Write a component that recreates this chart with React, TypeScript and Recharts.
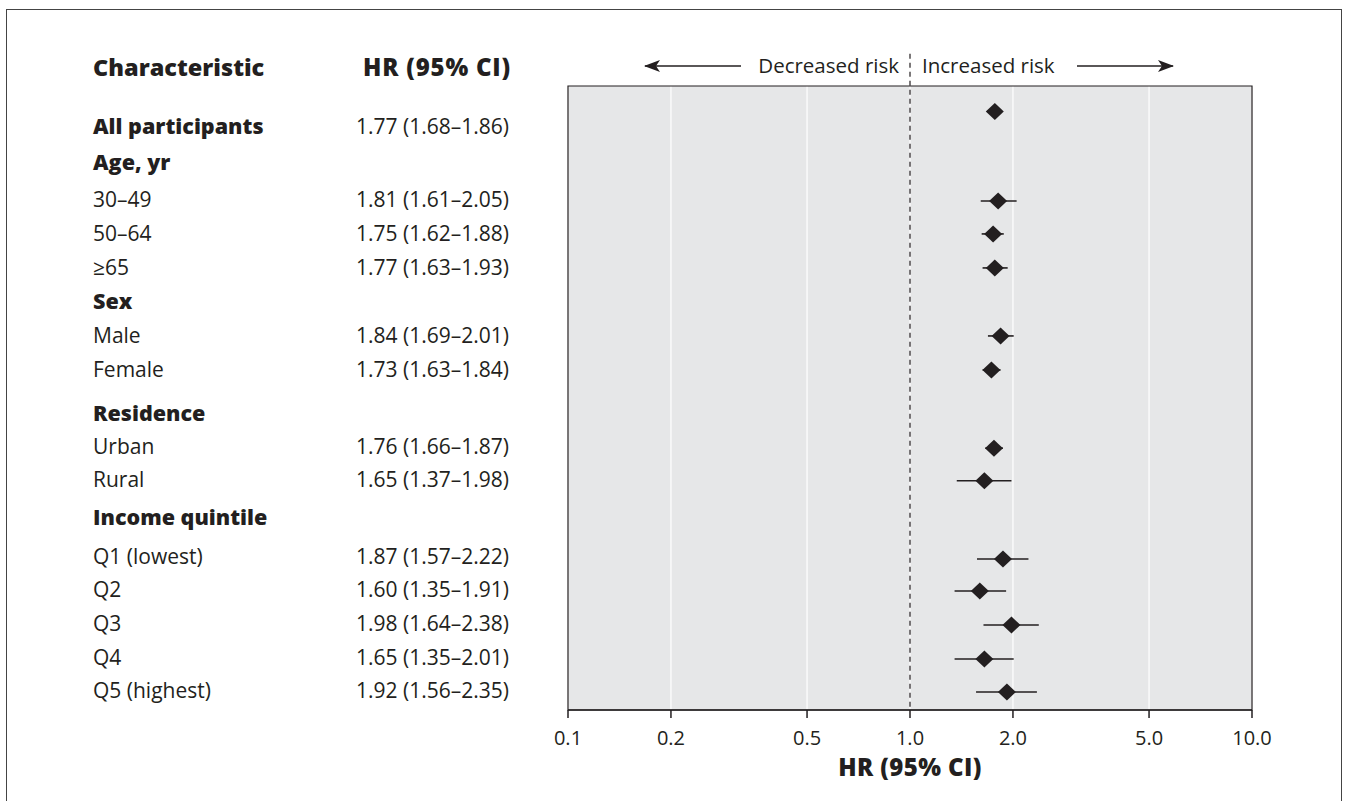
import React from 'react';
import {
  ScatterChart,
  Scatter,
  XAxis,
  YAxis,
  CartesianGrid,
  ErrorBar,
  ReferenceLine,
  ReferenceArea,
} from 'recharts';

// ---- Column headers ----
const columnHeaders = ['Characteristic', 'HR (95% CI)'];
const riskLabels = ['Decreased risk', 'Increased risk'];
const xAxisTitle = 'HR (95% CI)';

// ---- Left-hand table (row labels and HR text) ----
const labels = [
  'All participants', 'Age, yr', '30–49', '50–64', '≥65', 'Sex', 'Male', 'Female',
  'Residence', 'Urban', 'Rural', 'Income quintile', 'Q1 (lowest)', 'Q2', 'Q3', 'Q4', 'Q5 (highest)',
];
const hrText = [
  '1.77 (1.68–1.86)', '', '1.81 (1.61–2.05)', '1.75 (1.62–1.88)', '1.77 (1.63–1.93)', '',
  '1.84 (1.69–2.01)', '1.73 (1.63–1.84)', '', '1.76 (1.66–1.87)', '1.65 (1.37–1.98)', '',
  '1.87 (1.57–2.22)', '1.60 (1.35–1.91)', '1.98 (1.64–2.38)', '1.65 (1.35–2.01)', '1.92 (1.56–2.35)',
];
const boldRows = [true, true, false, false, false, true, false, false, true, false, false, true, false, false, false, false, false];
// vertical row position of each label (row units)
const labelRow = [0.85, 1.9, 3, 4, 5, 6, 7, 8, 9.27, 10.27, 11.24, 12.33, 13.5, 14.47, 15.47, 16.47, 17.44];

// ---- Series: hazard ratios with 95% CI ----
const seriesNames = ['All participants', '30–49', '50–64', '≥65', 'Male', 'Female', 'Urban', 'Rural', 'Q1 (lowest)', 'Q2', 'Q3', 'Q4', 'Q5 (highest)'];
const hr = [1.77, 1.81, 1.75, 1.77, 1.84, 1.73, 1.76, 1.65, 1.87, 1.6, 1.98, 1.65, 1.92];
const ciLow = [1.68, 1.61, 1.62, 1.63, 1.69, 1.63, 1.66, 1.37, 1.57, 1.35, 1.64, 1.35, 1.56];
const ciHigh = [1.86, 2.05, 1.88, 1.93, 2.01, 1.84, 1.87, 1.98, 2.22, 1.91, 2.38, 2.01, 2.35];
const markerRow = [0.4, 3.03, 4, 5, 7, 8, 10.3, 11.26, 13.56, 14.5, 15.5, 16.5, 17.47];

const xTicks = [0.1, 0.2, 0.5, 1, 2, 5, 10];
const yDomain = [-0.35, 18];

const TEXT = '#231f20';
const FONT = '"Open Sans", "Noto Sans", sans-serif';

const table = seriesNames.map((name, i) => ({
  name,
  hr: hr[i],
  row: markerRow[i],
  err: [hr[i] - ciLow[i], ciHigh[i] - hr[i]],
}));

const RowTick = (props: any) => {
  const { y, payload } = props;
  const i = labelRow.indexOf(payload.value);
  if (i < 0) return null;
  const bold = boldRows[i];
  return (
    <g>
      <text x={93} y={y} dy="0.35em" fontFamily={FONT} fontSize={bold ? 21.5 : 21}
        fontWeight={bold ? 800 : 400} fill={TEXT}>{labels[i]}</text>
      {hrText[i] ? (
        <text x={356} y={y} dy="0.35em" fontFamily={FONT} fontSize={21}
          fontWeight={400} fill={TEXT}>{hrText[i]}</text>
      ) : null}
    </g>
  );
};

const Diamond = (props: any) => {
  const { cx, cy } = props;
  if (cx == null || cy == null) return null;
  return <path d={`M${cx},${cy - 8.5} L${cx + 9},${cy} L${cx},${cy + 8.5} L${cx - 9},${cy} Z`} fill={TEXT} />;
};

const AxisTitle = (props: any) => {
  const vb = props.viewBox || {};
  const cx = vb.x + vb.width / 2;
  const y = vb.y + vb.height - 12;
  return (
    <text x={cx} y={y} dy="0.35em" textAnchor="middle" fontFamily={FONT} fontSize={24}
      fontWeight={800} letterSpacing={0.4} fill={TEXT}>{xAxisTitle}</text>
  );
};

export default function App() {
  return (
    <div style={{ position: 'absolute', left: 0, top: 0, width: 1349, height: 801, overflow: 'hidden', background: '#fff' }}>
      <div style={{ position: 'absolute', left: 6, top: 9, width: 1336, height: 830, border: '1.5px solid #444', boxSizing: 'border-box' }} />
      <div style={{ position: 'absolute', left: 0, top: 0 }}>
        <ScatterChart width={1349} height={801} margin={{ top: 86, right: 97, bottom: 21, left: 0 }}>
          <CartesianGrid horizontal={false} stroke="#ffffff" strokeWidth={1.2} fill="#e6e7e8" />
          <XAxis
            dataKey="hr"
            type="number"
            scale="log"
            domain={[0.1, 10]}
            ticks={xTicks}
            allowDataOverflow
            interval={0}
            tickFormatter={(v: number) => v.toFixed(1)}
            tickSize={8}
            tickMargin={13}
            height={70}
            axisLine={{ stroke: TEXT, strokeWidth: 1.5 }}
            tickLine={{ stroke: TEXT, strokeWidth: 1.5 }}
            tick={{ fill: TEXT, fontSize: 20, fontFamily: FONT }}
            label={<AxisTitle />}
          />
          <YAxis
            dataKey="row"
            type="number"
            domain={yDomain}
            reversed
            ticks={labelRow}
            interval={0}
            width={568}
            axisLine={false}
            tickLine={false}
            tick={<RowTick />}
          />
          <ReferenceArea x1={0.1} x2={10} y1={yDomain[0]} y2={yDomain[1]} fill="none" stroke={TEXT} strokeWidth={1.2} ifOverflow="visible" />
          <ReferenceLine
            segment={[{ x: 1, y: -1.3 }, { x: 1, y: yDomain[1] }]}
            stroke={TEXT}
            strokeWidth={1.2}
            strokeDasharray="5 4"
            ifOverflow="visible"
          />
          <Scatter data={table} shape={<Diamond />} isAnimationActive={false}>
            <ErrorBar dataKey="err" direction="x" width={0} stroke={TEXT} strokeWidth={1.6} />
          </Scatter>
        </ScatterChart>
      </div>
      <svg width={1349} height={801} style={{ position: 'absolute', left: 0, top: 0, pointerEvents: 'none' }}>
        <defs>
          <marker id="arrowHead" viewBox="0 0 16 12" refX="15" refY="6" markerWidth="16" markerHeight="12" markerUnits="userSpaceOnUse" orient="auto-start-reverse">
            <path d="M0,0 L16,6 L0,12 L4,6 Z" fill={TEXT} />
          </marker>
        </defs>
        <text x={93} y={68} dy="0.35em" fontFamily={FONT} fontSize={23.5} fontWeight={800} fill={TEXT}>{columnHeaders[0]}</text>
        <text x={363} y={68} dy="0.35em" fontFamily={FONT} fontSize={24} fontWeight={800} letterSpacing={0.8} fill={TEXT}>{columnHeaders[1]}</text>
        <line x1={741} y1={66} x2={645} y2={66} stroke={TEXT} strokeWidth={1.4} markerEnd="url(#arrowHead)" />
        <line x1={1077} y1={66} x2={1173} y2={66} stroke={TEXT} strokeWidth={1.4} markerEnd="url(#arrowHead)" />
        <text x={899} y={66} dy="0.35em" textAnchor="end" fontFamily={FONT} fontSize={20.5} fill={TEXT}>{riskLabels[0]}</text>
        <text x={922} y={66} dy="0.35em" textAnchor="start" fontFamily={FONT} fontSize={20.5} fill={TEXT}>{riskLabels[1]}</text>
      </svg>
    </div>
  );
}
